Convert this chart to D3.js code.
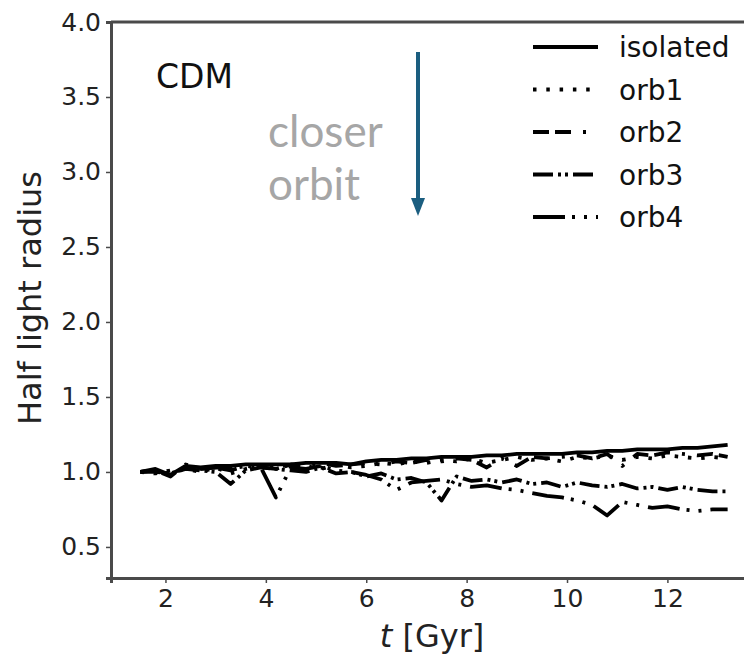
<!DOCTYPE html>
<html>
<head>
<meta charset="utf-8">
<script src="https://cdn.jsdelivr.net/npm/d3@7"></script>
<style>
  body { margin: 0; background: #fff; }
  svg text { font-family: "DejaVu Sans", sans-serif; }
</style>
</head>
<body>
<div class="chart"></div>
<script>
// time samples [Gyr]
const times = [1.5, 1.8, 2.1, 2.4, 2.7, 3.0, 3.3, 3.6, 3.9, 4.2, 4.5, 4.8, 5.1, 5.4, 5.7, 6.0, 6.3, 6.6, 6.9, 7.2,
               7.5, 7.8, 8.1, 8.4, 8.7, 9.0, 9.3, 9.6, 9.9, 10.2, 10.5, 10.8, 11.1, 11.4, 11.7, 12.0, 12.3, 12.6, 12.9, 13.2];

const isolated = [1.00, 1.02, 0.98, 1.04, 1.03, 1.04, 1.04, 1.05, 1.05, 1.05, 1.05, 1.06, 1.06, 1.06, 1.05, 1.07, 1.08, 1.08, 1.09, 1.09,
                  1.10, 1.10, 1.10, 1.11, 1.11, 1.12, 1.12, 1.12, 1.12, 1.13, 1.13, 1.14, 1.14, 1.15, 1.15, 1.15, 1.16, 1.16, 1.17, 1.18];
const orb1 = [1.00, 0.99, 1.01, 1.02, 1.00, 1.03, 0.99, 1.02, 1.04, 1.03, 1.05, 1.04, 1.02, 1.05, 1.03, 1.04, 1.06, 1.05, 1.07, 1.06,
              1.08, 1.07, 1.09, 1.06, 1.08, 1.10, 1.08, 1.09, 1.07, 1.10, 1.09, 1.11, 1.08, 1.10, 1.09, 1.11, 1.10, 1.09, 1.10, 1.09];
const orb2 = [1.00, 1.01, 0.97, 1.05, 1.02, 1.03, 1.01, 1.04, 1.03, 1.02, 1.05, 1.04, 1.06, 1.04, 1.05, 1.06, 1.05, 1.07, 1.06, 1.08,
              1.07, 1.09, 1.08, 1.03, 1.09, 1.04, 1.10, 1.09, 1.10, 1.11, 1.09, 1.12, 1.04, 1.12, 1.11, 1.13, 1.12, 1.11, 1.12, 1.10];
const orb3 = [1.00, 1.00, 0.99, 1.02, 1.01, 1.00, 0.92, 1.01, 1.03, 1.02, 1.01, 1.00, 1.03, 0.99, 1.00, 0.97, 0.99, 0.95, 0.96, 0.93,
              0.81, 0.97, 0.94, 0.95, 0.93, 0.95, 0.92, 0.93, 0.90, 0.93, 0.91, 0.90, 0.92, 0.89, 0.90, 0.88, 0.90, 0.88, 0.87, 0.87];
const orb4 = [1.00, 1.01, 0.98, 1.03, 1.02, 1.03, 1.02, 1.04, 1.03, 0.83, 1.03, 1.02, 1.04, 1.01, 1.00, 0.98, 0.95, 0.88, 0.93, 0.94,
              0.95, 0.92, 0.90, 0.91, 0.89, 0.88, 0.86, 0.84, 0.83, 0.81, 0.78, 0.71, 0.80, 0.78, 0.76, 0.77, 0.75, 0.74, 0.75, 0.75];

const seriesNames = ["isolated", "orb1", "orb2", "orb3", "orb4"];
const xTicks = [2, 4, 6, 8, 10, 12];
const yTicks = [0.5, 1.0, 1.5, 2.0, 2.5, 3.0, 3.5, 4.0];

const W = 744, H = 655;
const svg = d3.select(".chart").append("svg")
    .attr("width", W).attr("height", H);

// axes box (right edge falls outside the picture)
const boxL = 111, boxT = 22, boxB = 578, boxR = 757;
const x = d3.scaleLinear().domain([0.915, 13.785]).range([boxL, boxR]);
const y = d3.scaleLinear().domain([0.293, 4.0]).range([boxB, boxT]);

// dash patterns per series
const dashes = {
  isolated: null,
  orb1: "3.5,9.8",
  orb2: "16,6,16,12,3,12",
  orb3: "20,5,3,4,3,5",
  orb4: "32,7,3,9,3,9"
};
const values = { isolated, orb1, orb2, orb3, orb4 };

const line = d3.line()
    .x((d, i) => x(times[i]))
    .y(d => y(d));

const plot = svg.append("g");
seriesNames.forEach(name => {
  plot.append("path")
      .datum(values[name])
      .attr("d", line)
      .attr("fill", "none")
      .attr("stroke", "#000")
      .attr("stroke-width", 3.8)
      .attr("stroke-linejoin", "round")
      .attr("stroke-dasharray", dashes[name]);
});

// axes
const xAxis = svg.append("g")
    .attr("transform", `translate(0,${boxB})`)
    .call(d3.axisBottom(x).tickValues(xTicks).tickSize(5).tickPadding(6).tickFormat(d3.format("d")));
const yAxis = svg.append("g")
    .attr("transform", `translate(${boxL},0)`)
    .call(d3.axisLeft(y).tickValues(yTicks).tickSize(5).tickPadding(5).tickFormat(d3.format(".1f")));
[xAxis, yAxis].forEach(g => {
  g.select(".domain").attr("stroke", "#4a4a4a").attr("stroke-width", 3);
  g.selectAll(".tick line").attr("stroke", "#4a4a4a").attr("stroke-width", 1.5);
  g.selectAll(".tick text").attr("fill", "#222").style("font-size", "25px");
});
// top spine
svg.append("line")
    .attr("x1", boxL).attr("x2", boxR)
    .attr("y1", boxT).attr("y2", boxT)
    .attr("stroke", "#4a4a4a").attr("stroke-width", 3);

// axis labels
svg.append("text")
    .attr("x", 432).attr("y", 647)
    .attr("text-anchor", "middle")
    .style("font-size", "32px").attr("fill", "#222")
    .html('<tspan font-style="italic">t</tspan> [Gyr]');
svg.append("text")
    .attr("transform", "translate(41,298) rotate(-90)")
    .attr("text-anchor", "middle")
    .style("font-size", "32px").attr("fill", "#222")
    .text("Half light radius");

// annotations
svg.append("text")
    .attr("x", 156).attr("y", 88)
    .style("font-size", "33px").attr("fill", "#111")
    .text("CDM");
svg.append("text")
    .attr("x", 268).attr("y", 147)
    .style("font-family", "Lato, sans-serif")
    .style("font-size", "44px").attr("fill", "#a6a6a6")
    .text("closer");
svg.append("text")
    .attr("x", 268).attr("y", 200)
    .style("font-family", "Lato, sans-serif")
    .style("font-size", "44px").attr("fill", "#a6a6a6")
    .text("orbit");

const arrowColor = "#1b5e80";
svg.append("line")
    .attr("x1", 418).attr("x2", 418)
    .attr("y1", 52).attr("y2", 200)
    .attr("stroke", arrowColor).attr("stroke-width", 4);
svg.append("path")
    .attr("d", "M411,198 L425,198 L418,216 Z")
    .attr("fill", arrowColor);

// legend
const legendY = d3.scalePoint().domain(seriesNames).range([47, 217]);
const legend = svg.append("g");
seriesNames.forEach(name => {
  const ly = legendY(name);
  legend.append("line")
      .attr("x1", 533).attr("x2", 598)
      .attr("y1", ly).attr("y2", ly)
      .attr("stroke", "#000").attr("stroke-width", 4)
      .attr("stroke-dasharray", dashes[name]);
  legend.append("text")
      .attr("x", 619).attr("y", ly + 10)
      .style("font-size", "28px").attr("fill", "#111")
      .text(name);
});
</script>
</body>
</html>
